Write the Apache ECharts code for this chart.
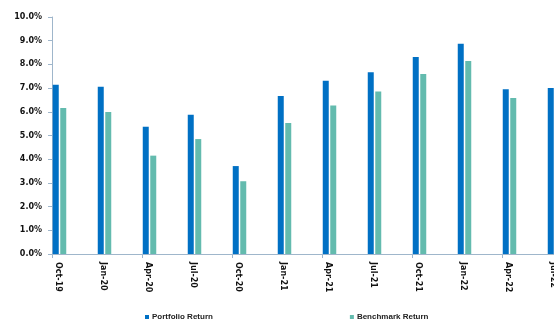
<!DOCTYPE html>
<html>
<head>
<meta charset="utf-8">
<script src="https://cdn.jsdelivr.net/npm/echarts@6/dist/echarts.min.js"></script>
<style>
  html, body { margin: 0; padding: 0; background: #fff; }
  #chart { width: 554px; height: 322px; }
</style>
</head>
<body>
<div id="chart"></div>
<script>
// quarters on the x axis (the last one is cut off in the original)
var quarters = ['Oct-19', 'Jan-20', 'Apr-20', 'Jul-20', 'Oct-20', 'Jan-21', 'Apr-21',
                'Jul-21', 'Oct-21', 'Jan-22', 'Apr-22', 'Jul-22'];
var portfolioReturn = [7.14, 7.06, 5.37, 5.88, 3.71, 6.67, 7.31, 7.67, 8.31, 8.87, 6.95, 7.00];
var benchmarkReturn = [6.16, 5.99, 4.15, 4.85, 3.07, 5.53, 6.27, 6.86, 7.59, 8.14, 6.58, 6.60];
var seriesNames = ['Portfolio Return', 'Benchmark Return'];

var chart = echarts.init(document.getElementById('chart'));

// empty series that only take up room, so the bars sit at the left of each band
var spacers = [];
for (var i = 0; i < 4; i++) {
    spacers.push({ name: 'pad' + i, type: 'bar', barWidth: 6, barGap: '25%', data: [] });
}

var axisColor = '#9fb6cb';
var bandCount = quarters.length + 1;
var gridRight = 554 - (52 + bandCount * 45);
var labelShift = 16;   // labels sit over the bars, not in the middle of the band

var option = {
    animation: false,
    textStyle: { fontFamily: 'DejaVu Sans' },
    grid: [{
        left: 52,
        top: 17,
        bottom: 68,
        right: gridRight,
        outerBoundsMode: 'none',
        containLabel: false
    }, {
        // second grid only carries the x labels
        left: 52 - labelShift,
        top: 17,
        bottom: 68,
        right: gridRight + labelShift,
        outerBoundsMode: 'none',
        containLabel: false
    }],
    legend: {
        data: seriesNames,
        left: 145,
        top: 313,
        padding: 0,
        itemGap: 137,
        itemWidth: 4,
        itemHeight: 4,
        icon: 'rect',
        textStyle: { fontFamily: 'Liberation Sans', fontSize: 8, fontWeight: 'bold', color: '#222', padding: [0, 0, 0, -2] }
    },
    xAxis: [{
        type: 'category',
        gridIndex: 0,
        data: quarters.concat(['']),
        boundaryGap: true,
        axisLine: { lineStyle: { color: axisColor } },
        axisTick: { show: true, length: 4, lineStyle: { color: axisColor } },
        axisLabel: { show: false }
    }, {
        type: 'category',
        gridIndex: 1,
        data: quarters.concat(['']),
        boundaryGap: true,
        axisLine: { show: false },
        axisTick: { show: false },
        axisLabel: {
            interval: 0,
            rotate: -90,
            margin: 8,
            fontSize: 8,
            fontWeight: 'bold',
            color: '#111'
        }
    }],
    yAxis: [{
        type: 'value',
        gridIndex: 0,
        min: 0,
        max: 10,
        interval: 1,
        splitLine: { show: false },
        axisLine: { show: true, lineStyle: { color: axisColor } },
        axisTick: { show: true, length: 4, lineStyle: { color: axisColor } },
        axisLabel: {
            margin: 10,
            fontSize: 8,
            fontWeight: 'bold',
            color: '#111',
            formatter: function (v) { return v.toFixed(1) + '%'; }
        }
    }, {
        type: 'value',
        gridIndex: 1,
        min: 0,
        max: 10,
        show: false
    }],
    series: [{
        name: seriesNames[0],
        type: 'bar',
        barWidth: 6,
        barGap: '25%',
        itemStyle: { color: '#0070c4' },
        data: portfolioReturn
    }, {
        name: seriesNames[1],
        type: 'bar',
        barWidth: 6,
        barGap: '25%',
        itemStyle: { color: '#63bbae' },
        data: benchmarkReturn
    }].concat(spacers)
};

chart.setOption(option);
</script>
</body>
</html>
